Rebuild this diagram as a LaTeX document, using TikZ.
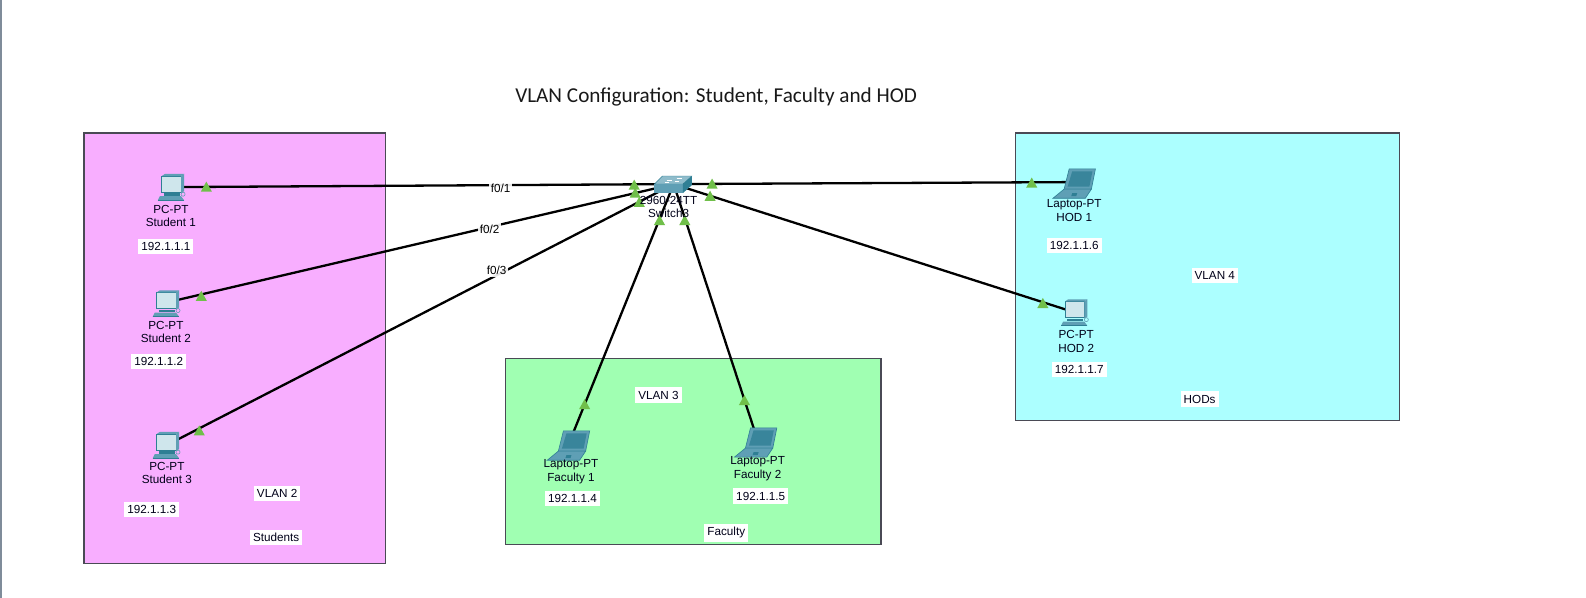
\documentclass[tikz,border=0pt]{standalone}
\usepackage{fontspec}
\setmainfont{Liberation Sans}
\newfontfamily\titlefont{Carlito}
\definecolor{pinkzone}{HTML}{F8AEFF}
\definecolor{greenzone}{HTML}{A0FFB2}
\definecolor{cyanzone}{HTML}{ACFFFF}
\definecolor{tealdark}{HTML}{2F7F94}
\definecolor{tealmid}{HTML}{5F9FB5}
\definecolor{teallight}{HTML}{CFE6EC}
\definecolor{linkgreen}{HTML}{70BF4A}
\definecolor{edgegray}{HTML}{4A4A55}
\definecolor{pageedge}{HTML}{7F8C9A}
\tikzset{
  zone/.style={draw=edgegray,line width=1.1pt},
  link/.style={draw=black,line width=2.3pt},
  anchorpt/.style={inner sep=0pt,minimum size=0pt},
  devlabel/.style={font=\fontsize{11.7}{13.5}\selectfont,align=center,inner sep=0pt,text=black!90!blue},
  whitelabel/.style={font=\fontsize{11.7}{13.5}\selectfont,fill=white,inner xsep=3pt,inner ysep=3.5pt,text=black!90!blue},
  linklabel/.style={font=\fontsize{11.7}{13.5}\selectfont,fill=white,fill opacity=0.9,text opacity=1,inner xsep=2pt,inner ysep=2pt},
  pics/arrowmark/.style={code={\fill[linkgreen] (-5.5,4.5) -- (0,-5.5) -- (5.5,4.5) -- cycle;}},
  pics/pcicon/.style={code={
    \fill[teallight,draw=tealdark,line width=0.8pt] (-10,-12) rectangle (9,4);
    \fill[tealmid] (9,-12) -- (12,-14) -- (12,3) -- (9,5) -- cycle;
    \fill[tealmid] (-10,-12) -- (-7,-14) -- (12,-14) -- (9,-12) -- cycle;
    \fill[tealdark] (-8,5) -- (8,5) -- (8,7.5) -- (-8,7.5) -- cycle;
    \fill[tealmid] (-12,8) -- (9,8) -- (12,12) -- (-14,12) -- cycle;
    \draw[tealdark,line width=0.6pt] (-14,12) -- (12,12);
    \draw[tealmid,line width=0.6pt] (11,6) circle (2);
  }},
  pics/laptopicon/.style={code={
    \fill[tealmid,draw=tealdark,line width=0.6pt] (-9,-14) -- (17,-14) -- (13,6) -- (-14,6) -- cycle;
    \fill[tealdark!80!tealmid] (-6,-11.5) -- (14,-11.5) -- (11,3.5) -- (-10.5,3.5) -- cycle;
    \fill[tealmid,draw=tealdark,line width=0.6pt] (-14,6) -- (13,6) -- (7,15) -- (-25,15) -- cycle;
    \fill[tealdark] (-6,10) -- (-1,10) -- (-2,13) -- (-7,13) -- cycle;
  }},
  pics/switchicon/.style={code={
    \fill[tealmid!70!white,draw=tealdark,line width=0.4pt] (-11,-9) -- (18,-9) -- (9,-1) -- (-19,-1) -- cycle;
    \fill[tealmid] (-19,-1) -- (9,-1) -- (9,8) -- (-19,8) -- cycle;
    \fill[tealdark] (9,-1) -- (18,-9) -- (18,0) -- (9,8) -- cycle;
    \draw[white,line width=0.7pt] (-7,-5) -- (-2,-5) (3,-7) -- (8,-7) (-9,-3) -- (-5,-3) (1,-4) -- (5,-4);
  }},
}
\begin{document}
\begin{tikzpicture}[x=1.0115pt,y=-1.0115pt]
\useasboundingbox (0,0) rectangle (1568,591.2);
\fill[white] (0,0) rectangle (1568,591.2);
\fill[pageedge] (0,0) rectangle (1.5,591.2);
\fill[pinkzone] (83,131.5) rectangle (381,557.5);
\draw[zone] (83,131.5) rectangle (381,557.5);
\fill[greenzone] (500,354) rectangle (871,538);
\draw[zone] (500,354) rectangle (871,538);
\fill[cyanzone] (1004,131.5) rectangle (1384,415.5);
\draw[zone] (1004,131.5) rectangle (1384,415.5);

\node[font=\titlefont\fontsize{21.2}{25}\selectfont,text=black!90,inner sep=0pt] (title) at (708,95.5) {VLAN Configuration: Student, Faculty and HOD};

% device anchors
\node[anchorpt] (sw) at (666,182) {};
\node[anchorpt] (s1) at (168,185) {};
\node[anchorpt] (s2) at (165,299) {};
\node[anchorpt] (s3) at (165,440) {};
\node[anchorpt] (f1) at (563,437) {};
\node[anchorpt] (f2) at (749,435) {};
\node[anchorpt] (h1) at (1065,180) {};
\node[anchorpt] (h2) at (1063,309) {};

% connectors
\draw[link] (s1.center) -- (sw.center);
\draw[link] (s2.center) -- (sw.center);
\draw[link] (s3.center) -- (sw.center);
\draw[link] (f1.center) -- (sw.center);
\draw[link] (f2.center) -- (sw.center);
\draw[link] (h1.center) -- (sw.center);
\draw[link] (h2.center) -- (sw.center);

% link arrows
\foreach \p in {(204,185),(199,293),(197,426),(627,183),(628,191),(632,200),(652,218),(677,218),(704,182),(702,194),(1020,181),(1031,300),(578,400),(736,396)}
  \pic at \p {arrowmark};

% icons
\pic at (170,186) {pcicon};
\pic at (165,301) {pcicon};
\pic at (165,441) {pcicon};
\pic at (1063,310) {pcicon};
\pic at (566,440) {laptopicon};
\pic at (751,437) {laptopicon};
\pic at (1066,181) {laptopicon};
\pic at (666,183) {switchicon};

% device labels
\node[devlabel] (ls1) at (169,213.5) {PC-PT\\Student 1};
\node[devlabel] (ls2) at (164,328) {PC-PT\\Student 2};
\node[devlabel] (ls3) at (165,467.5) {PC-PT\\Student 3};
\node[devlabel] (lf1) at (564.5,466.5) {Laptop-PT\\Faculty 1};
\node[devlabel] (lf2) at (749,463.5) {Laptop-PT\\Faculty 2};
\node[devlabel] (lh1) at (1062,208) {Laptop-PT\\HOD 1};
\node[devlabel] (lh2) at (1064,337.5) {PC-PT\\HOD 2};
\node[devlabel] (lsw) at (661,204.5) {2960-24TT\\Switch3};

% addresses
\node[whitelabel] (a1) at (164,243.5) {192.1.1.1};
\node[whitelabel] (a2) at (157,357.5) {192.1.1.2};
\node[whitelabel] (a3) at (150,503.5) {192.1.1.3};
\node[whitelabel] (a4) at (566,492.5) {192.1.1.4};
\node[whitelabel] (a5) at (752,490.5) {192.1.1.5};
\node[whitelabel] (a6) at (1062,242.5) {192.1.1.6};
\node[whitelabel] (a7) at (1067,365.5) {192.1.1.7};

% zone labels
\node[whitelabel] (v2) at (274,487.5) {VLAN 2};
\node[whitelabel] (z2) at (273,531.5) {Students};
\node[whitelabel] (v3) at (651,390.5) {VLAN 3};
\node[whitelabel] (z3) at (718,526.5) {Faculty};
\node[whitelabel] (v4) at (1201,272.5) {VLAN 4};
\node[whitelabel] (z4) at (1186,394.5) {HODs};

% link labels
\node[linklabel] (l1) at (495,186.5) {f0/1};
\node[linklabel] (l2) at (484,226.5) {f0/2};
\node[linklabel] (l3) at (491,267.5) {f0/3};
\end{tikzpicture}
\end{document}
